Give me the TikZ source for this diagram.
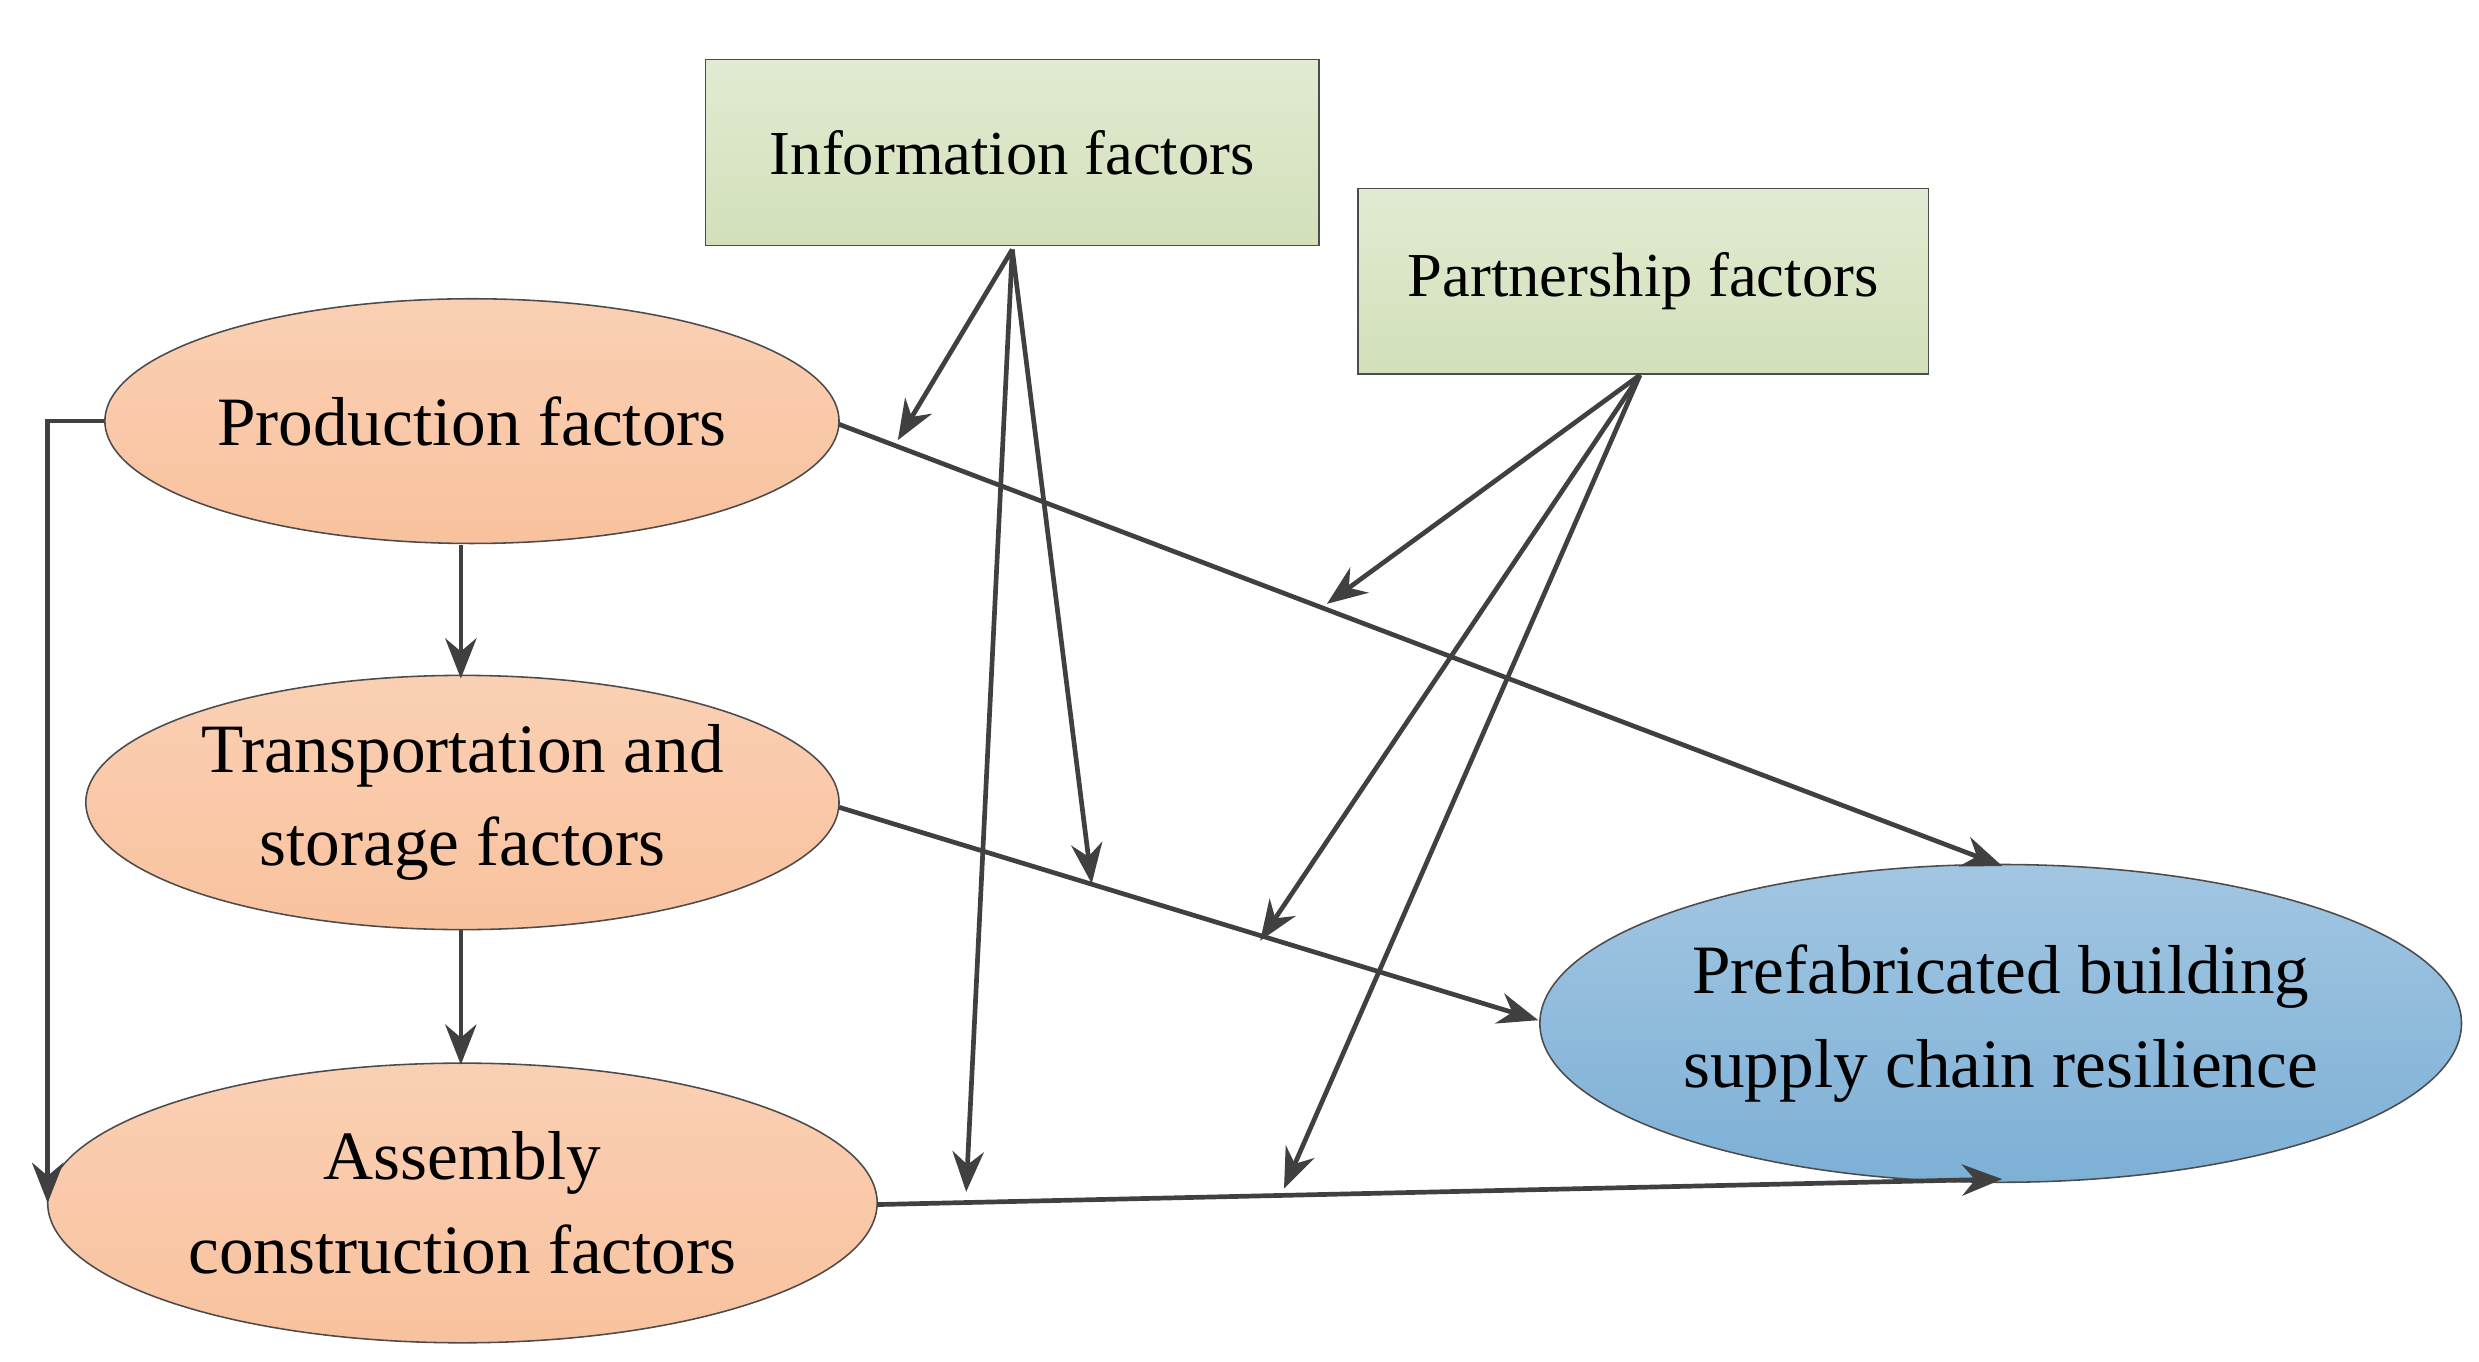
\documentclass[tikz,border=0pt]{standalone}
\usepackage{fontspec}
\setmainfont{Liberation Serif}
\usetikzlibrary{shapes.geometric,arrows.meta}
\definecolor{bt}{HTML}{A2C6E2}
\definecolor{bb}{HTML}{7DB0D6}
\definecolor{ot}{HTML}{FAD0B4}
\definecolor{ob}{HTML}{F9C29E}
\definecolor{gt}{HTML}{E2EBD2}
\definecolor{gbb}{HTML}{D2E0BA}
\begin{document}
\begin{tikzpicture}[x=0.05cm,y=-0.05cm,
  ln/.style={draw=black!75,line width=4.2pt},
  ar/.style={ln,-{Stealth[length=36pt,width=28pt]}},
  oe/.style={ellipse,draw=black!70,line width=1.4pt,top color=ot,bottom color=ob,inner sep=0pt,font=\fontsize{62}{84}\selectfont,align=center},
  gb/.style={rectangle,draw=black!70,line width=1.4pt,top color=gt,bottom color=gbb,inner sep=0pt,font=\fontsize{56}{66}\selectfont}]
\useasboundingbox (0,0) rectangle (1560,857);
\node[gb,minimum width=19.3cm,minimum height=5.85cm] (info) at (637,96) {Information factors};
\node[gb,minimum width=17.95cm,minimum height=5.85cm] (part) at (1034,177) {Partnership factors};
\node[oe,minimum width=23.1cm,minimum height=7.7cm] (prod) at (297,265) {Production factors};
\node[oe,minimum width=23.7cm,minimum height=8cm] (tran) at (291,505) {Transportation and\\storage factors};
\node[oe,minimum width=26.1cm,minimum height=8.8cm] (asm) at (291,757) {Assembly\\construction factors};
\node[oe,top color=bt,bottom color=bb,minimum width=29cm,minimum height=10cm] (res) at (1259,644) {Prefabricated building\\supply chain resilience};
\coordinate (i0) at (637,157);
\coordinate (p0) at (1032,236);
\coordinate (a1) at (565,277);
\coordinate (a2) at (608,750);
\coordinate (a3) at (687,556);
\coordinate (b1) at (835,380);
\coordinate (b2) at (793,592);
\coordinate (b3) at (808,748);
\coordinate (pr) at (528,267);
\coordinate (rt) at (1260,545);
\coordinate (tr) at (528,508);
\coordinate (rl) at (968,642);
\coordinate (as) at (552,758);
\coordinate (rb) at (1260,742);
\coordinate (d1) at (290,343);
\coordinate (d2) at (290,427);
\coordinate (d3) at (290,585);
\coordinate (d4) at (290,670);
\coordinate (lc) at (30,265);
\coordinate (le) at (30,757);
\draw[ar] (i0) -- (a1);
\draw[ar] (i0) -- (a2);
\draw[ar] (i0) -- (a3);
\draw[ar] (p0) -- (b1);
\draw[ar] (p0) -- (b2);
\draw[ar] (p0) -- (b3);
\draw[ar] (pr) -- (rt);
\draw[ar] (tr) -- (rl);
\draw[ar] (as) -- (rb);
\draw[ar] (d1) -- (d2);
\draw[ar] (d3) -- (d4);
\draw[ar] (prod.west) -- (lc) -- (le);
\end{tikzpicture}
\end{document}
